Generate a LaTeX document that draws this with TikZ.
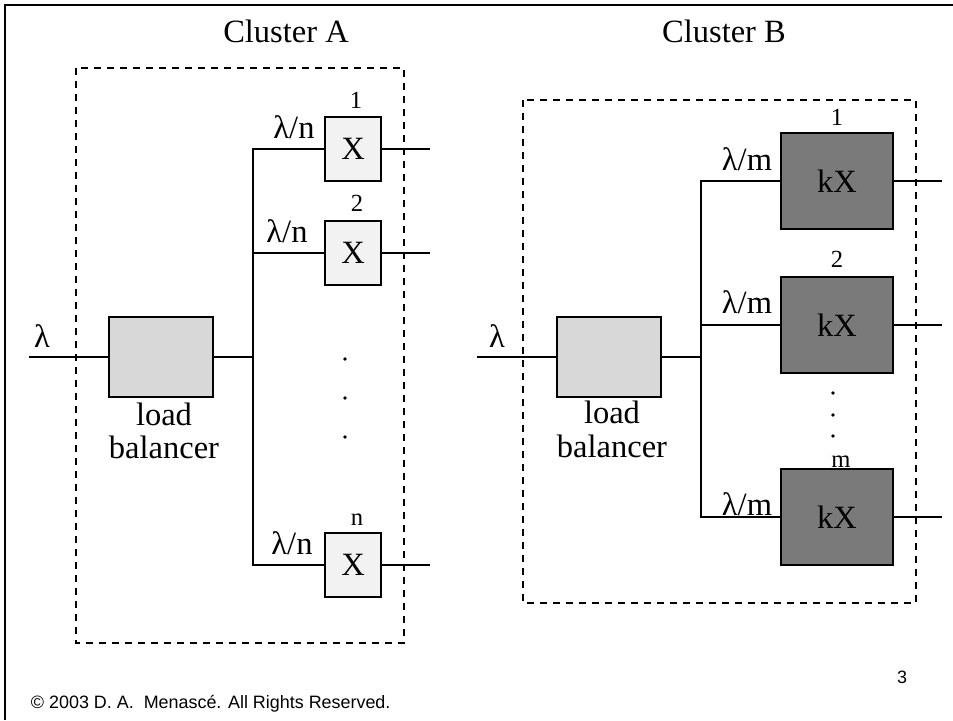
\documentclass[tikz,border=0pt]{standalone}
\usepackage{fontspec}
\setmainfont{Liberation Serif}
\newfontfamily\footfont{Liberation Sans}
\definecolor{lbgray}{RGB}{216,216,216}
\definecolor{xgray}{RGB}{242,242,242}
\definecolor{kxgray}{RGB}{122,122,122}
\begin{document}
\begin{tikzpicture}[x=0.02cm,y=-0.02cm,line width=1.1pt,
  big/.style={font=\fontsize{18.5}{20}\selectfont, inner sep=0pt},
  small/.style={font=\fontsize{14}{15}\selectfont, inner sep=0pt, anchor=base},
  lbl/.style={big, anchor=base},
  lbbox/.style={draw, fill=lbgray, minimum width=2.08cm, minimum height=1.6cm, inner sep=0pt},
  xbox/.style={draw, fill=xgray, minimum width=1.12cm, minimum height=1.28cm, inner sep=0pt, big},
  kxbox/.style={draw, fill=kxgray, minimum width=2.24cm, minimum height=1.92cm, inner sep=0pt, big},
  clusterbox/.style={draw, dashed, dash pattern=on 4pt off 3.4pt},
  dotmark/.style={fill, circle, inner sep=0pt, minimum size=2.2pt}]
\useasboundingbox (0,0) rectangle (953,720);
% frame
\draw[line width=1.3pt] (5,720) -- (5,5) -- (953,5);
% ---------- Cluster A ----------
\node[lbl] (tA) at (286,42) {Cluster A};
\draw[clusterbox] (76,68) rectangle (404,643);
\node[lbbox] (lbA) at (161,357) {};
\node[lbl] (loadA) at (164,425) {load};
\node[lbl] (balA) at (164,458) {balancer};
\node[xbox] (xA1) at (353,149) {X};
\node[xbox] (xA2) at (353,253) {X};
\node[xbox] (xAn) at (353,565) {X};
\node[small] (nA1) at (356,108) {1};
\node[small] (nA2) at (357,211) {2};
\node[small] (nAn) at (357,525) {n};
\node[lbl] (inlA) at (42,347) {λ};
\node[lbl] (lA1) at (294,138) {λ/n};
\node[lbl] (lA2) at (287,242) {λ/n};
\node[lbl] (lAn) at (292,554) {λ/n};
\coordinate (inA) at (29,357);
\coordinate (jA) at (253,357);
\coordinate (oA1) at (430,149);
\coordinate (oA2) at (430,253);
\coordinate (oAn) at (430,565);
\draw (inA) -- (lbA.west);
\draw (lbA.east) -- (jA);
\draw (xA1.west) -| (jA) |- (xAn.west);
\draw (xA2.west) -- (xA2.west -| jA);
\draw (xA1.east) -- (oA1);
\draw (xA2.east) -- (oA2);
\draw (xAn.east) -- (oAn);
\node[dotmark] (dA1) at (345,359) {};
\node[dotmark] (dA2) at (345,398) {};
\node[dotmark] (dA3) at (345,437) {};
% ---------- Cluster B ----------
\node[lbl] (tB) at (724,42) {Cluster B};
\draw[clusterbox] (523,100) rectangle (916,603);
\node[lbbox] (lbB) at (609,357) {};
\node[lbl] (loadB) at (612,423) {load};
\node[lbl] (balB) at (612,457) {balancer};
\node[kxbox] (xB1) at (837,181) {kX};
\node[kxbox] (xB2) at (837,325) {kX};
\node[kxbox] (xBm) at (837,517) {kX};
\node[small] (nB1) at (837,125) {1};
\node[small] (nB2) at (837,267) {2};
\node[small] (nBm) at (841,467) {m};
\node[lbl] (inlB) at (497,347) {λ};
\coordinate (inB) at (477,357);
\coordinate (jB) at (701,357);
\coordinate (oB1) at (942,181);
\coordinate (oB2) at (942,325);
\coordinate (oBm) at (942,517);
\draw (inB) -- (lbB.west);
\draw (lbB.east) -- (jB);
\draw (xB1.west) -| (jB) |- (xBm.west);
\draw (xB2.west) -- (xB2.west -| jB);
\draw (xB1.east) -- (oB1);
\draw (xB2.east) -- (oB2);
\draw (xBm.east) -- (oBm);
\node[lbl] (lB1) at (747,170) {λ/m};
\node[lbl] (lB2) at (747,313) {λ/m};
\node[lbl] (lBm) at (747,515) {λ/m};
\node[dotmark] (dB1) at (833,393) {};
\node[dotmark] (dB2) at (833,415) {};
\node[dotmark] (dB3) at (833,436) {};
% ---------- footer ----------
\node[anchor=base west, inner sep=0pt, font=\footfont\fontsize{10.2}{12}\selectfont] (copy) at (30,708) {© 2003 D. A.\ \ Menascé. All Rights Reserved.};
\node[anchor=base, inner sep=0pt, font=\footfont\fontsize{10.2}{12}\selectfont] (page) at (902,683) {3};
\end{tikzpicture}
\end{document}
